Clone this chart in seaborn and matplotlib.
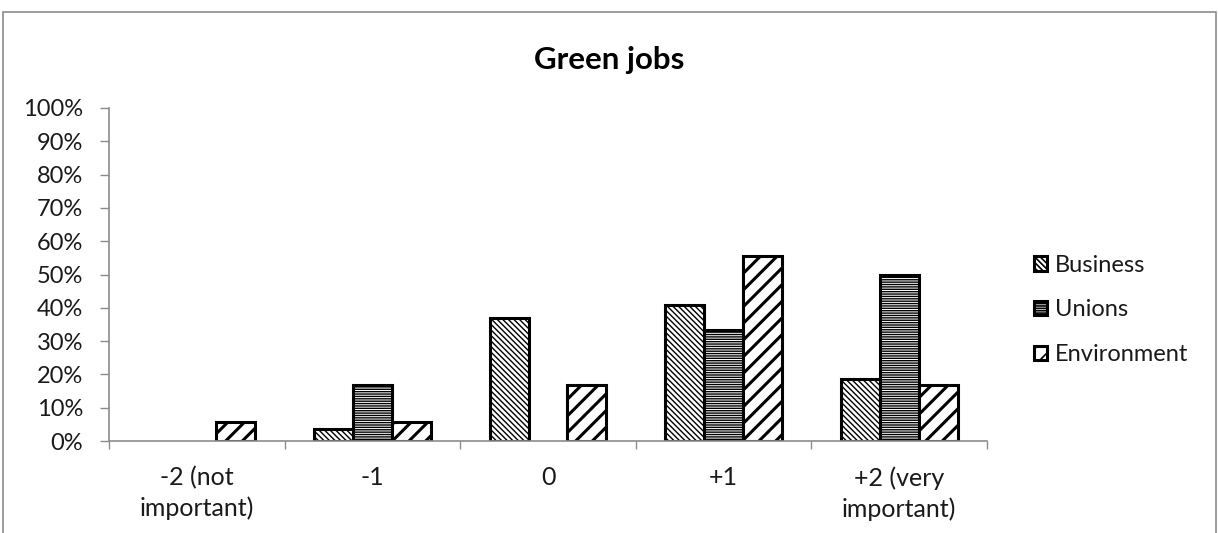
import numpy as np
import pandas as pd
import matplotlib.pyplot as plt
import seaborn as sns
from matplotlib.patches import Patch, Rectangle

# Dados (proporções)
categorias = ['-2 (not\nimportant)', '-1', '0', '+1', '+2 (very\nimportant)']
grupos = ['Business', 'Unions', 'Environment']
business = [0.0, 0.037, 0.370, 0.407, 0.185]
unions = [0.0, 0.167, 0.0, 0.333, 0.500]
environment = [0.056, 0.056, 0.167, 0.556, 0.167]

df = pd.DataFrame({
    'categoria': categorias * 3,
    'grupo': np.repeat(grupos, len(categorias)),
    'valor': business + unions + environment,
})

sns.set_style('white')
plt.rcParams['font.family'] = ['Lato', 'DejaVu Sans']
plt.rcParams['hatch.linewidth'] = 1.2
plt.rcParams['text.color'] = '#1a1a1a'

fig = plt.figure(figsize=(12.18, 5.33), dpi=100)
ax = fig.add_axes([109 / 1218, 1 - 441 / 533, 878 / 1218, 333 / 533])

# moldura do gráfico
fig.patches.append(Rectangle((3 / 1218, -0.05), 1213 / 1218, 1.05 - 12 / 533,
                             transform=fig.transFigure, fill=False,
                             edgecolor='#8c8c8c', linewidth=1.2))

sns.barplot(data=df, x='categoria', y='valor', hue='grupo', order=categorias,
            hue_order=grupos, palette=['white'] * 3, edgecolor='black',
            linewidth=2.2, width=0.665, ax=ax, legend=False)

hatches = ['\\\\\\\\\\\\', '-------', '//']
hatch_lw = [1.0, 1.0, 2.2]
for cont, h, lw in zip(ax.containers, hatches, hatch_lw):
    for barra in cont:
        barra.set_hatch(h)
        if hasattr(barra, 'set_hatch_linewidth'):
            barra.set_hatch_linewidth(lw)
        if barra.get_height() == 0:
            barra.set_visible(False)

ax.set_ylim(0, 1)
ax.set_xlim(-0.5, 4.5)
ax.set_yticks(np.arange(0, 1.01, 0.1))
ax.set_yticklabels([f'{int(round(v * 100))}%' for v in np.arange(0, 1.01, 0.1)], fontsize=17)
ax.tick_params(axis='y', length=6.5, color='#8c8c8c', width=1, direction='out', left=True, pad=12,
               labelcolor='#1a1a1a')
ax.tick_params(axis='x', which='major', length=0, labelsize=18, pad=18, labelcolor='#1a1a1a')
ax.set_xticks(np.arange(-0.5, 4.6, 1), minor=True)
ax.tick_params(axis='x', which='minor', length=6, color='#8c8c8c', width=1, direction='out', bottom=True)
for lbl in ax.get_xticklabels():
    lbl.set_linespacing(1.38)
ax.set_xlabel('')
ax.set_ylabel('')
for lado in ['top', 'right']:
    ax.spines[lado].set_visible(False)
for lado in ['left', 'bottom']:
    ax.spines[lado].set_color('#8c8c8c')
    ax.spines[lado].set_linewidth(1.2)
ax.set_zorder(2)

fig.text(0.5, 1 - 60 / 533, 'Green jobs', ha='center', va='center',
         fontsize=22.5, fontweight='bold', color='black')

handles = [Patch(facecolor='white', edgecolor='black', hatch=h, linewidth=2.2) for h in hatches]
fig.legend(handles, grupos, loc='center left', bbox_to_anchor=(1022 / 1218, 1 - 310 / 533),
           frameon=False, fontsize=17, handlelength=0.56, handleheight=0.56,
           handletextpad=0.32, labelspacing=1.0, borderpad=0)

fig.savefig('out.png', dpi=100)
